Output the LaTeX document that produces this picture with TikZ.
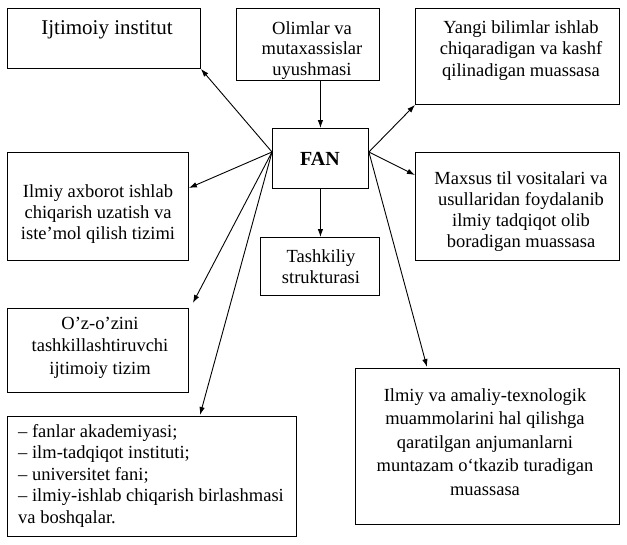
\documentclass[tikz,border=0pt]{standalone}
\usepackage{fontspec}
\setmainfont{Liberation Serif}
\usetikzlibrary{arrows.meta,calc}
\begin{document}
\begin{tikzpicture}[x=1pt,y=-1pt,
  box/.style={draw=black, line width=0.9pt, inner sep=0pt, anchor=north west},
  txt/.style={inner sep=0pt, align=center, anchor=base},
  fs/.style={font=\fontsize{18.5}{#1}\selectfont},
  arr/.style={draw, line width=0.9pt, -{Latex[length=8pt,width=5.5pt]}}]
\useasboundingbox (0,0) rectangle (627,544);
% boxes
\node[box, minimum width=193pt, minimum height=60pt]  (ijt) at (7,8) {};
\node[box, minimum width=143pt, minimum height=72pt]  (oli) at (236,8) {};
\node[box, minimum width=204pt, minimum height=96pt]  (yan) at (415,8) {};
\node[box, minimum width=96pt,  minimum height=60pt]  (fan) at (272,128) {};
\node[box, minimum width=204pt, minimum height=108pt] (max) at (415,152) {};
\node[box, minimum width=119pt, minimum height=58pt]  (tas) at (260,237) {};
\node[box, minimum width=181pt, minimum height=108pt] (axb) at (7,152) {};
\node[box, minimum width=181pt, minimum height=84pt]  (ozo) at (7,308) {};
\node[box, minimum width=289pt, minimum height=120pt] (lst) at (7,416) {};
\node[box, minimum width=264pt, minimum height=156pt] (ilm) at (355,368) {};
% texts (anchor = baseline of the last line)
\node[txt, font=\fontsize{21}{24}\selectfont] (ijtT) at (107,34) {Ijtimoiy institut};
\node[txt, fs=20.5] (oliT) at (312,75) {Olimlar va\\mutaxassislar\\uyushmasi};
\node[txt, fs=21.5] (yanT) at (521,76) {Yangi bilimlar ishlab\\chiqaradigan va kashf\\qilinadigan muassasa};
\node[txt, font=\fontsize{20}{24}\selectfont\bfseries] (fanT) at (320,165) {FAN};
\node[txt, fs=21] (maxT) at (521,247) {Maxsus til vositalari va\\usullaridan foydalanib\\ilmiy tadqiqot olib\\boradigan muassasa};
\node[txt, fs=21] (tasT) at (321,283) {Tashkiliy\\strukturasi};
\node[txt, fs=21] (axbT) at (98,239) {Ilmiy axborot ishlab\\chiqarish uzatish va\\iste’mol qilish tizimi};
\node[txt, fs=22.5] (ozoT) at (100,374) {O’z-o’zini\\tashkillashtiruvchi\\ijtimoiy tizim};
\node[txt, fs=21.5, align=left, anchor=base west] (lstT) at (18,523) {– fanlar akademiyasi;\\– ilm-tadqiqot instituti;\\– universitet fani;\\– ilmiy-ishlab chiqarish birlashmasi\\va boshqalar.};
\node[txt, fs=23.5] (ilmT) at (485,495) {Ilmiy va amaliy-texnologik\\muammolarini hal qilishga\\qaratilgan anjumanlarni\\muntazam o‘tkazib turadigan\\muassasa};
% connector origins on FAN
\coordinate (fanL) at ($(fan.north west)+(0,24)$);
\coordinate (fanR) at ($(fan.north east)+(0,24)$);
% connectors
\draw[arr] (fan.north |- oli.south) -- (fan.north);
\draw[arr] (fan.south) -- (fan.south |- tas.north);
\draw[arr] (fanL) -- (ijt.south east);
\draw[arr] (fanL) -- ($(axb.north east)+(0,36)$);
\draw[arr] (fanL) -- ($(ozo.north east)+(4,-5)$);
\draw[arr] (fanL) -- ($(lst.north west)+(193,-1)$);
\draw[arr] (fanR) -- (yan.south west);
\draw[arr] (fanR) -- ($(max.north west)+(0,23)$);
\draw[arr] (fanR) -- ($(ilm.north west)+(72,-1)$);
\end{tikzpicture}
\end{document}
